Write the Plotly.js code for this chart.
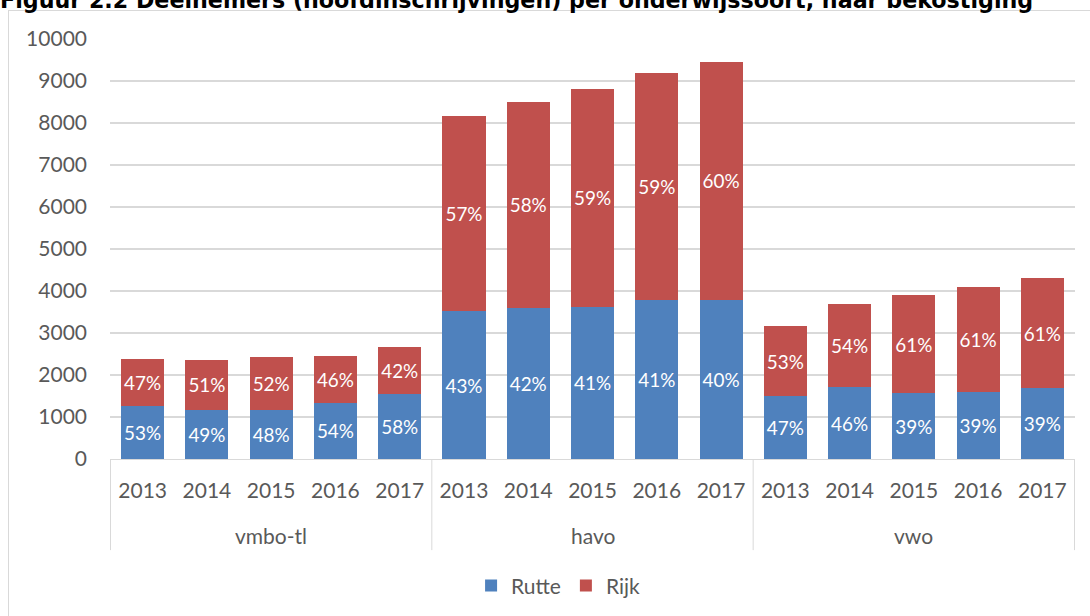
<!DOCTYPE html>
<html>
<head>
<meta charset="utf-8">
<script src="https://cdn.plot.ly/plotly-3.0.1.min.js"></script>
<style>
html,body{margin:0;padding:0;background:#fff;}
#wrap{position:relative;width:1090px;height:616px;overflow:hidden;}
#frame{position:absolute;left:8px;top:10px;width:1090px;height:620px;border:1px solid #d9d9d9;box-sizing:border-box;}
#chart{position:absolute;left:0;top:0;width:1090px;height:616px;}
</style>
</head>
<body>
<div id="wrap"><div id="frame"></div><div id="chart"></div></div>
<script>
const groupNames = ["vmbo-tl","havo","vwo"];
const groups = ["vmbo-tl","vmbo-tl","vmbo-tl","vmbo-tl","vmbo-tl","havo","havo","havo","havo","havo","vwo","vwo","vwo","vwo","vwo"];
const years = ["2013","2014","2015","2016","2017","2013","2014","2015","2016","2017","2013","2014","2015","2016","2017"];
const rutte = [1265,1165,1175,1335,1558, 3515,3600,3625,3790,3795, 1495,1705,1560,1605,1690];
const rijk  = [1115,1200,1245,1125,1117, 4645,4908,5177,5408,5657, 1672,1993,2345,2498,2610];
const rutteLabels = ["53%","49%","48%","54%","58%","43%","42%","41%","41%","40%","47%","46%","39%","39%","39%"];
const rijkLabels  = ["47%","51%","52%","46%","42%","57%","58%","59%","59%","60%","53%","54%","61%","61%","61%"];

// unique category keys built from the groups and years
const keys = groups.map((g, i) => g + " " + years[i]);

const font = "Lato, 'Open Sans', sans-serif";
const grey = "#595959";
const common = {
  type: "bar",
  x: keys,
  textposition: "inside",
  insidetextanchor: "middle",
  textangle: 0,
  textfont: {family: font, size: 19, color: "#ffffff"},
  hoverinfo: "skip"
};
const traces = [
  Object.assign({}, common, {name: "Rutte", y: rutte, text: rutteLabels,
    marker: {color: "#4f81bd"}}),
  Object.assign({}, common, {name: "Rijk", y: rijk, text: rijkLabels,
    marker: {color: "#c0504d"}})
];

// group labels and dividers, placed on the category axis
const annotations = groupNames.map(g => {
  const idx = groups.indexOf(g);
  const n = groups.filter(v => v === g).length;
  return {
    x: idx + (n - 1) / 2, xref: "x", y: -0.181, yref: "paper",
    text: g, showarrow: false, yanchor: "middle",
    font: {family: font, size: 21, color: grey}
  };
});
const bounds = [];
groupNames.forEach(g => bounds.push(groups.indexOf(g) - 0.5));
bounds.push(groups.length - 0.5);
const shapes = bounds.map(b => ({
  type: "line", xref: "x", yref: "paper", x0: b, x1: b, y0: 0, y1: -0.217,
  line: {color: "#d9d9d9", width: 1}
}));

const layout = {
  width: 1090, height: 616,
  margin: {l: 110, r: 15, t: 39, b: 157},
  paper_bgcolor: "rgba(0,0,0,0)",
  plot_bgcolor: "rgba(0,0,0,0)",
  barmode: "stack",
  bargap: 0.33,
  showlegend: true,
  title: {
    text: "<b>Figuur 2.2 Deelnemers (hoofdinschrijvingen) per onderwijssoort, naar bekostiging</b>",
    font: {family: "DejaVu Sans", size: 22.2, color: "#000000"},
    xref: "container", yref: "container",
    x: 0, xanchor: "left", y: 1, yanchor: "middle", automargin: false,
    pad: {t: 0, b: 0, l: 0, r: 0}
  },
  xaxis: {
    type: "category",
    tickmode: "array", tickvals: keys, ticktext: years,
    tickfont: {family: font, size: 21, color: grey},
    showline: true, linecolor: "#d9d9d9", linewidth: 1,
    ticks: "", showgrid: false, automargin: false,
    ticklabelstandoff: 13
  },
  yaxis: {
    range: [0, 10000],
    dtick: 1000,
    tickformat: "d",
    tickfont: {family: font, size: 21, color: grey},
    gridcolor: "#d9d9d9", gridwidth: 1.5,
    zeroline: false, showline: false, ticks: "",
    ticklabelstandoff: 22, automargin: false
  },
  legend: {
    orientation: "h", xref: "container", yref: "container",
    x: 0.512, xanchor: "center", y: 0.049, yanchor: "middle",
    font: {family: font, size: 21, color: grey},
    itemwidth: 30, traceorder: "normal"
  },
  annotations: annotations,
  shapes: shapes
};
Plotly.newPlot("chart", traces, layout, {displayModeBar: false, staticPlot: true});
</script>
</body>
</html>
